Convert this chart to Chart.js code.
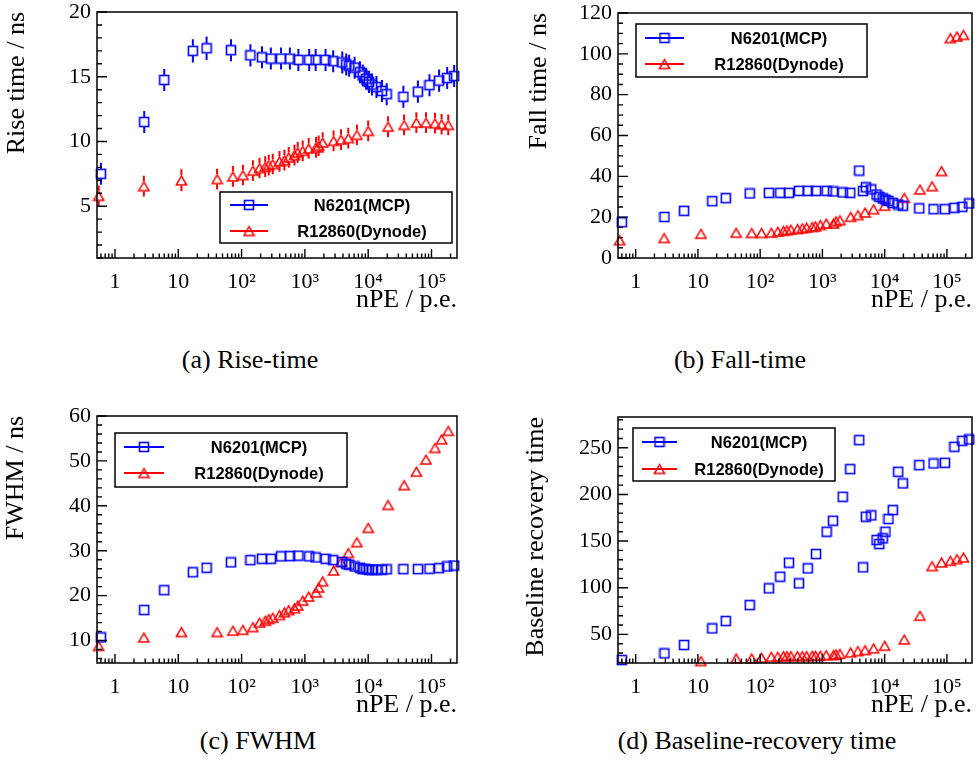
<!DOCTYPE html>
<html><head><meta charset="utf-8">
<script src="https://cdn.jsdelivr.net/npm/chart.js@4.4.1/dist/chart.umd.min.js"></script>
<style>
html,body{margin:0;padding:0;background:#fff;}
#wrap{position:relative;width:979px;height:782px;overflow:hidden;background:#fff;}
canvas{position:absolute;}
.cap{position:absolute;font-family:"Liberation Serif","Times New Roman",serif;font-size:26px;color:#000;transform:translate(-50%,-50%);white-space:nowrap;line-height:1;}
</style></head><body>
<div id="wrap">
<canvas id="cA" width="489" height="320" style="left:0px;top:0px"></canvas>
<canvas id="cB" width="490" height="320" style="left:489px;top:0px"></canvas>
<canvas id="cC" width="489" height="325" style="left:0px;top:400px"></canvas>
<canvas id="cD" width="490" height="325" style="left:489px;top:400px"></canvas>
<div class="cap" style="left:250px;top:360px">(a) Rise-time</div>
<div class="cap" style="left:740px;top:360px">(b) Fall-time</div>
<div class="cap" style="left:258px;top:741px">(c) FWHM</div>
<div class="cap" style="left:757px;top:741px">(d) Baseline-recovery time</div>
</div>
<script>
// ---------------- data ----------------
const SERIES = ['N6201(MCP)', 'R12860(Dynode)'];
const X_TITLE = 'nPE / p.e.';
const X_MAJOR = [1, 10, 100, 1000, 10000, 100000];
const X_LABELS = ['1', '10', '10²', '10³', '10⁴', '10⁵'];
const X_MINOR_MULT = [2, 3, 4, 5, 6, 7, 8, 9];
const X_DECADES = [0.1, 1, 10, 100, 1000, 10000, 100000];

const MCP_X = [0.6, 2.9, 6.0, 17, 28, 68, 138, 210, 290, 420, 580, 790, 1170, 1480, 2120, 2800,
  3900, 4500, 5000, 6100, 7400, 8200, 9300, 10300, 11500, 13500, 16500, 19600, 36000, 61000, 93000, 132000, 177000, 228000];
const DYN_X = [0.553, 2.86, 11.2, 41, 73, 105, 151, 192, 236, 269, 311, 397, 475, 556, 684, 771, 925, 1150,
  1500, 1650, 1910, 2840, 3720, 4840, 6640, 10000, 20600, 36900, 57700, 81900, 113500, 144600, 184000];

const RISE_MCP = [7.5, 11.5, 14.75, 17.0, 17.2, 17.05, 16.65, 16.5, 16.4, 16.4, 16.4, 16.3, 16.3, 16.3, 16.3, 16.2,
  16.1, 15.95, 15.85, 15.7, 15.35, 15.1, 14.85, 14.6, 14.4, 14.2, 13.9, 13.65, 13.45, 13.85, 14.35, 14.7, 14.9, 15.05];
const RISE_MCP_ERR = [0.85, 0.85, 0.85, 0.9, 0.9, 0.85, 0.85, 0.85, 0.85, 0.85, 0.85, 0.85, 0.85, 0.85, 0.85, 0.85,
  0.85, 0.85, 0.85, 0.85, 0.85, 0.85, 0.85, 0.85, 0.85, 0.85, 0.85, 0.85, 0.85, 0.85, 0.85, 0.85, 0.85, 0.85];
const RISE_DYN = [5.8, 6.55, 7.0, 7.1, 7.3, 7.41, 7.75, 7.95, 8.05, 8.18, 8.26, 8.46, 8.56, 8.77, 8.95, 9.15, 9.28, 9.46,
  9.54, 9.67, 9.92, 10.05, 10.15, 10.26, 10.51, 10.82, 11.15, 11.28, 11.46, 11.46, 11.41, 11.33, 11.28];
const RISE_DYN_ERR = [0.8, 0.8, 0.85, 0.8, 0.8, 0.8, 0.8, 0.8, 0.8, 0.8, 0.8, 0.8, 0.8, 0.8, 0.8, 0.8, 0.8, 0.8,
  0.8, 0.8, 0.8, 0.8, 0.8, 0.8, 0.8, 0.8, 0.8, 0.8, 0.8, 0.8, 0.8, 0.8, 0.8];

const FALL_MCP = [17.5, 20.1, 23.1, 27.8, 29.3, 31.6, 31.9, 31.9, 31.9, 32.9, 32.9, 32.9, 32.9, 32.6, 32.1, 31.9,
  42.8, 32.8, 34.6, 33.6, 31.1, 30.0, 29.2, 28.6, 28.0, 27.0, 26.2, 25.6, 24.3, 23.9, 23.9, 24.6, 25.1, 26.7];
const FALL_DYN = [8.7, 9.8, 11.9, 12.4, 12.3, 12.3, 12.4, 12.9, 13.3, 13.6, 13.9, 14.2, 14.6, 14.9, 15.2, 15.5, 16.2, 16.9,
  16.9, 18.0, 18.5, 20.2, 21.0, 22.3, 23.9, 25.6, 29.5, 33.6, 35.2, 42.6, 107.7, 108.5, 109.3];

const FWHM_MCP = [10.7, 16.8, 21.2, 25.2, 26.2, 27.4, 27.9, 28.2, 28.2, 28.75, 28.8, 28.9, 28.75, 28.5, 28.2, 27.9,
  27.5, 27.1, 26.9, 26.5, 26.2, 25.9, 25.9, 25.8, 25.8, 25.8, 25.8, 25.85, 25.9, 25.9, 26.0, 26.1, 26.5, 26.7];
const FWHM_DYN = [8.8, 10.7, 11.9, 11.9, 12.2, 12.4, 13.0, 14.0, 14.4, 14.8, 15.1, 15.7, 16.3, 16.8, 17.2, 17.8, 18.9, 19.8,
  20.7, 21.8, 23.2, 25.6, 27.5, 29.5, 31.9, 35.1, 40.2, 44.6, 47.6, 50.3, 52.9, 54.8, 56.7];

const BRT_MCP = [22.5, 29.6, 38.6, 56.4, 64.3, 81.4, 99.3, 111.8, 126.8, 104.6, 120.7, 136.1, 160, 171.8, 197.5, 227.1,
  258.2, 121.8, 176.1, 177.5, 151.1, 146.8, 152.9, 160, 173.6, 183.2, 224.3, 211.8, 231.4, 233.2, 233.9, 251.1, 257.5, 258.9];
const BRT_DYN = [null, null, 21.4, 24.3, 24.3, 25.0, 26.0, 26.0, 26.8, 26.8, 26.8, 26.8, 26.8, 26.8, 27.1, 27.1, 27.1, 27.8,
  27.8, 28.6, 29.2, 30.7, 32.1, 33.2, 35.0, 37.8, 44.6, 70.0, 123.2, 127.1, 128.9, 130.7, 132.5];

const Y_TICKS_RISE = [5, 10, 15, 20];
const Y_TICKS_FALL = [0, 20, 40, 60, 80, 100, 120];
const Y_TICKS_FWHM = [10, 20, 30, 40, 50, 60];
const Y_TICKS_BRT = [50, 100, 150, 200, 250];

// ---------------- styles / layout ----------------
const X_MIN = 0.52, X_MAX = 2.53e5;
const BLUE = '#0000ff', RED = '#ff0000';
const SERIF = '"Liberation Serif", "Times New Roman", serif';
const SANS = '"Liberation Sans", Arial, sans-serif';

function squareMarker(color) {
  const c = document.createElement('canvas'); c.width = 12; c.height = 12;
  const g = c.getContext('2d'); g.strokeStyle = color; g.lineWidth = 1.6;
  g.strokeRect(1.5, 1.5, 9, 9); return c;
}
function triangleMarker(color) {
  const c = document.createElement('canvas'); c.width = 13; c.height = 13;
  const g = c.getContext('2d'); g.strokeStyle = color; g.lineWidth = 1.5; g.lineJoin = 'miter';
  g.beginPath(); g.moveTo(6.5, 2.2); g.lineTo(11.6, 11); g.lineTo(1.4, 11); g.closePath(); g.stroke(); return c;
}
const SQ = squareMarker(BLUE), TRI = triangleMarker(RED);

const errorBars = {
  id: 'errorBars',
  beforeDatasetsDraw(chart) {
    const {ctx, scales: {x, y}} = chart;
    chart.data.datasets.forEach(ds => {
      if (!ds.errors) return;
      ctx.save(); ctx.strokeStyle = ds.borderColor; ctx.lineWidth = 2;
      ds.data.forEach((p, j) => {
        if (p.y == null) return;
        const px = x.getPixelForValue(p.x), py = y.getPixelForValue(p.y);
        const t = y.getPixelForValue(p.y + ds.errors[j]), b = y.getPixelForValue(p.y - ds.errors[j]);
        ctx.beginPath();
        ctx.moveTo(px, t); ctx.lineTo(px, py - ds.gapTop);
        ctx.moveTo(px, py + ds.gapBot); ctx.lineTo(px, b);
        ctx.stroke();
      });
      ctx.restore();
    });
  }
};

const rootFrame = {
  id: 'rootFrame',
  afterDatasetsDraw(chart, args, o) {
    const {ctx, chartArea: a, scales: {x, y}} = chart;
    ctx.save(); ctx.strokeStyle = '#000'; ctx.lineWidth = 1.4;
    ctx.beginPath();
    X_MAJOR.forEach(v => {
      if (v < X_MIN || v > X_MAX) return;
      const px = x.getPixelForValue(v); ctx.moveTo(px, a.bottom); ctx.lineTo(px, a.bottom - 9);
    });
    X_DECADES.forEach(d => X_MINOR_MULT.forEach(m => {
      const v = d * m; if (v < X_MIN || v > X_MAX) return;
      const px = x.getPixelForValue(v); ctx.moveTo(px, a.bottom); ctx.lineTo(px, a.bottom - 4.5);
    }));
    const ymin = y.min, ymax = y.max;
    for (let v = Math.ceil(ymin / o.minor) * o.minor; v <= ymax + 1e-9; v += o.minor) {
      const isMajor = o.ticks.some(t => Math.abs(t - v) < 1e-6);
      const py = y.getPixelForValue(v);
      ctx.moveTo(a.left, py); ctx.lineTo(a.left + (isMajor ? 10 : 5), py);
    }
    ctx.stroke();
    ctx.lineWidth = 1.5;
    ctx.strokeRect(a.left, a.top, a.right - a.left, a.bottom - a.top);
    ctx.restore();
  }
};

const rootLegend = {
  id: 'rootLegend',
  afterDraw(chart, args, o) {
    const ctx = chart.ctx; const [x1, y1, x2, y2] = o.box;
    ctx.save();
    ctx.fillStyle = '#fff'; ctx.fillRect(x1, y1, x2 - x1, y2 - y1);
    ctx.strokeStyle = '#000'; ctx.lineWidth = 1.5; ctx.strokeRect(x1, y1, x2 - x1, y2 - y1);
    chart.data.datasets.forEach((ds, i) => {
      const yy = o.rows[i];
      ctx.strokeStyle = ds.borderColor; ctx.lineWidth = 2;
      ctx.beginPath(); ctx.moveTo(o.line[0], yy); ctx.lineTo(o.line[1], yy); ctx.stroke();
      const mk = ds.pointStyle; const mx = (o.line[0] + o.line[1]) / 2;
      ctx.drawImage(mk, mx - mk.width / 2, yy - mk.height / 2);
      ctx.fillStyle = '#000'; ctx.font = 'bold 16.5px ' + SANS;
      ctx.textAlign = 'center'; ctx.textBaseline = 'middle';
      ctx.fillText(ds.label, o.textX, yy + 1);
    });
    ctx.restore();
  }
};

function makeChart(id, p) {
  const mk = (xs, ys, errs, label, style, color, gt, gb) => ({
    label, data: xs.map((x, i) => ({x, y: ys[i]})), pointStyle: style, borderColor: color,
    backgroundColor: 'rgba(0,0,0,0)', pointRadius: 6, showLine: false, clip: false,
    errors: errs, gapTop: gt, gapBot: gb
  });
  return new Chart(document.getElementById(id), {
    type: 'scatter',
    data: {datasets: [
      mk(MCP_X, p.mcp, p.mcpErr, SERIES[0], SQ, BLUE, 5, 5),
      mk(DYN_X, p.dyn, p.dynErr, SERIES[1], TRI, RED, 5, 5)
    ]},
    options: {
      responsive: false, animation: false, events: [],
      layout: {padding: {left: 0, right: p.padR, top: p.padT, bottom: 0}},
      plugins: {legend: {display: false}, tooltip: {enabled: false},
        rootLegend: p.legend, rootFrame: {ticks: p.yTicks, minor: p.yMinor}},
      scales: {
        x: {
          type: 'logarithmic', min: X_MIN, max: X_MAX,
          grid: {display: false, drawTicks: false}, border: {display: false},
          afterBuildTicks: s => { s.ticks = X_MAJOR.map(v => ({value: v})); },
          afterFit: s => { s.height = p.xAxisH; s.paddingLeft = 0; s.paddingRight = 0; },
          ticks: {autoSkip: false, maxRotation: 0, minRotation: 0, padding: 11, color: '#000',
            font: {family: SERIF, size: 22}, callback: (v, i) => X_LABELS[i]},
          title: {display: true, text: X_TITLE, align: 'end', color: '#000',
            font: {family: SERIF, size: 26}, padding: {top: 0, bottom: 4.4}}
        },
        y: {
          type: 'linear', min: p.yMin, max: p.yMax,
          grid: {display: false, drawTicks: false}, border: {display: false},
          afterBuildTicks: s => { s.ticks = p.yTicks.map(v => ({value: v})); },
          afterFit: s => { s.width = p.yAxisW; s.paddingTop = 0; s.paddingBottom = 0; },
          ticks: {padding: 6, color: '#000', font: {family: SERIF, size: 22}, callback: v => String(v)},
          title: {display: true, text: p.yTitle, align: 'end', color: '#000',
            font: {family: SERIF, size: 26}, padding: {top: p.yTitlePad, bottom: 0}}
        }
      }
    },
    plugins: [errorBars, rootFrame, rootLegend]
  });
}

makeChart('cA', {mcp: RISE_MCP, dyn: RISE_DYN, mcpErr: RISE_MCP_ERR, dynErr: RISE_DYN_ERR,
  yMin: 1, yMax: 20, yTicks: Y_TICKS_RISE, yMinor: 1, yTitle: 'Rise time / ns', yTitlePad: 1.6,
  padT: 12, padR: 32, yAxisW: 97, xAxisH: 62,
  legend: {box: [220, 192, 452, 243], rows: [205, 231], line: [230, 268], textX: 362}});
makeChart('cB', {mcp: FALL_MCP, dyn: FALL_DYN,
  yMin: 0, yMax: 120, yTicks: Y_TICKS_FALL, yMinor: 5, yTitle: 'Fall time / ns', yTitlePad: 34.4,
  padT: 13, padR: 1, yAxisW: 129, xAxisH: 62,
  legend: {box: [147, 24, 378, 77], rows: [38, 64], line: [156, 195], textX: 290}});
makeChart('cC', {mcp: FWHM_MCP, dyn: FWHM_DYN,
  yMin: 5, yMax: 60, yTicks: Y_TICKS_FWHM, yMinor: 2, yTitle: 'FWHM / ns', yTitlePad: 0.8,
  padT: 16, padR: 32, yAxisW: 97, xAxisH: 62,
  legend: {box: [115, 33, 347, 87], rows: [47, 73], line: [124, 164], textX: 259}});
makeChart('cD', {mcp: BRT_MCP, dyn: BRT_DYN,
  yMin: 19.3, yMax: 283, yTicks: Y_TICKS_BRT, yMinor: 10, yTitle: 'Baseline recovery time', yTitlePad: 31.4,
  padT: 17, padR: 1, yAxisW: 129, xAxisH: 62,
  legend: {box: [144, 28, 346, 81], rows: [42, 69], line: [153, 188], textX: 270}});
</script>
</body></html>
